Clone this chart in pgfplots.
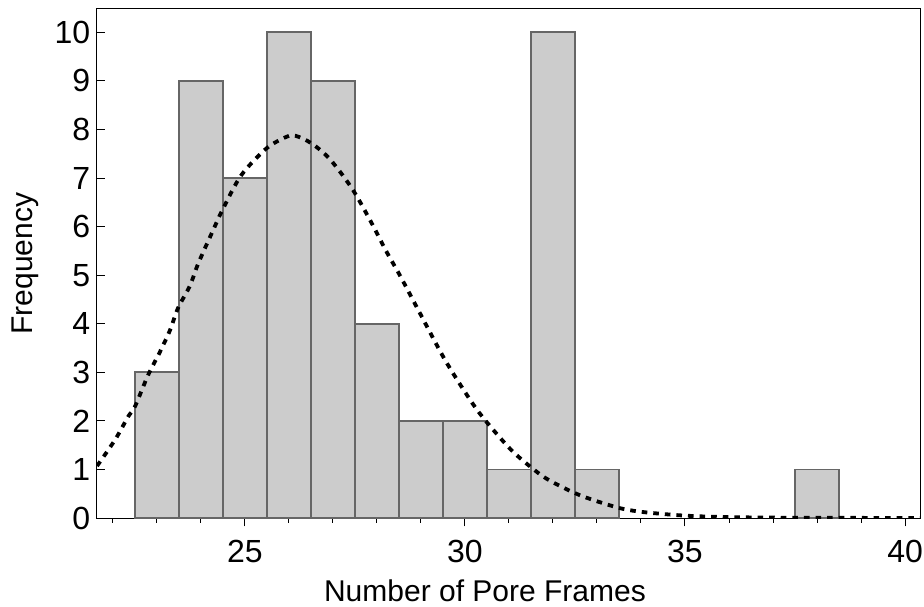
\documentclass[border=0pt]{standalone}
\usepackage{fontspec}
\setmainfont{Liberation Sans}
\usepackage{pgfplots}
\pgfplotsset{compat=1.18}
\definecolor{barfill}{HTML}{CCCCCC}
\definecolor{baredge}{HTML}{666666}

\begin{document}
\fontsize{15}{18}\selectfont
\begin{tikzpicture}
\begin{axis}[
  scale only axis, width=411.5pt, height=254.5pt,
  xmin=21.64, xmax=40.34, ymin=0, ymax=10.48,
  xtick={25,30,35,40}, minor xtick={22,...,40}, ytick={0,...,10},
  tick align=inside, xtick pos=left, ytick pos=left,
  major tick length=4.2pt, minor tick length=2.3pt,
  tick style={black, line width=0.5pt},
  axis line style={line width=0.5pt},
  /pgf/number format/assume math mode=true,
  ticklabel style={font=\fontsize{16}{19}\selectfont},
  yticklabel style={inner sep=0pt, xshift=-3.2pt},
  xticklabel style={inner sep=0pt, yshift=-6.5pt},
  xlabel={Number of Pore Frames}, ylabel={Frequency},
  xlabel style={at={(axis description cs:0.4714,-0.165)}, anchor=base},
  ylabel style={at={(axis description cs:-0.0875,0.5)}, anchor=center},
  ybar, bar width=1,
]
\addplot[ybar, bar shift=0pt, fill=barfill, draw=baredge, line width=0.9pt] coordinates {
  (23,3) (24,9) (25,7) (26,10) (27,9) (28,4) (29,2) (30,2) (31,1) (32,10) (33,1) (38,1)
};
\addplot[smooth, black, line width=1.9pt, dash pattern=on 2.8pt off 3pt] coordinates {
  (21.64,1.07) (22.05,1.61) (22.35,2.09) (22.50,2.29) (22.80,2.94) (23.07,3.42)
  (23.30,3.87) (23.48,4.32) (23.75,4.78) (23.94,5.24) (24.28,5.93) (24.51,6.38)
  (24.92,7.06) (25.49,7.61) (25.95,7.85) (26.15,7.87) (26.52,7.71) (26.93,7.39)
  (27.43,6.79) (27.84,6.14) (28.22,5.48) (28.52,5.00) (28.90,4.35) (29.55,3.25)
  (30.15,2.39) (30.49,1.98) (31.02,1.43) (31.44,1.09) (31.89,0.79) (32.61,0.47)
  (33.45,0.22) (33.98,0.13) (34.81,0.06) (35.5,0.03) (36.5,0.012) (38,0.004) (40.34,0.001)
};
\end{axis}
\pgfresetboundingbox
\path[use as bounding box] ([shift={(-48.5pt,-44pt)}]current axis.south west) rectangle ([shift={(2pt,4.5pt)}]current axis.north east);
\end{tikzpicture}
\end{document}
